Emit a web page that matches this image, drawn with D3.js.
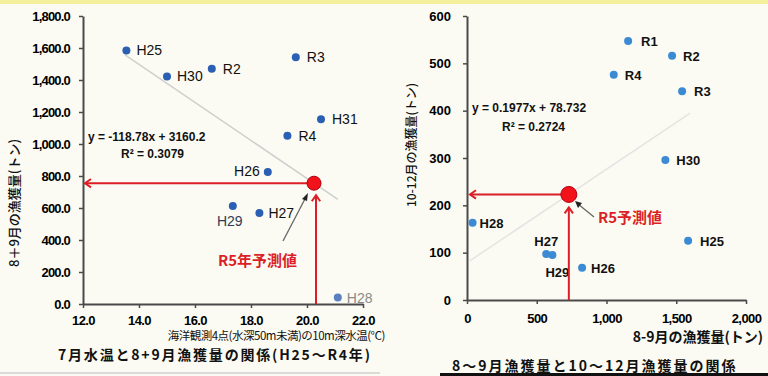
<!DOCTYPE html>
<html><head><meta charset="utf-8">
<script src="https://cdn.jsdelivr.net/npm/d3@7/dist/d3.min.js"></script>
<style>
html,body{margin:0;padding:0;background:#fbfbf3;}
svg{display:block;}
text{font-family:"Liberation Sans",Arial,"Noto Sans CJK JP",sans-serif;}
.jp{font-family:"Noto Sans CJK JP","Liberation Sans",sans-serif;}
</style></head>
<body>
<svg id="c" width="768" height="376"></svg>
<script>
// ---- data ----
const leftLabels = ["H25","H26","H27","H28","H29","H30","H31","R2","R3","R4"];
const julyTemp   = [13.55,18.6,18.3,21.1,17.35,15.0,20.5,16.6,19.6,19.3];
const catch89    = [1585,825,568,40,612,1422,1155,1470,1542,1052];
const rightLabels = ["H25","H26","H27","H28","H29","H30","R1","R2","R3","R4"];
const catch1012  = [125,68,97,163,95,296,547,516,441,476];
const leftXTicks = [12,14,16,18,20,22];
const leftYTicks = [0,200,400,600,800,1000,1200,1400,1600,1800];
const rightXTicks = [0,500,1000,1500,2000];
const rightYTicks = [0,100,200,300,400,500,600];
const leftFit = {slope:-118.78, intercept:3160.2, r2:"0.3079", from:13.5, to:21.1};
const rightFit = {slope:0.1977, intercept:78.732, r2:"0.2724", from:20, to:1600};
const predTemp = 20.25;
const predCatch89 = 755;
const predCatch89R = 730;
const predCatch1012 = 223;

const svg = d3.select("#c");
svg.append("rect").attr("x",0).attr("y",0).attr("width",768).attr("height",376).attr("fill","#fbfbf3");
svg.append("rect").attr("x",0).attr("y",0).attr("width",768).attr("height",4).attr("fill","#f4ef9c");

const red = "#dc1f26";
function arrowHead(g, x, y, dir){
  const s = 6;
  let pts;
  if(dir==="left") pts=[[x+s,y-s*0.7],[x,y],[x+s,y+s*0.7]];
  else pts=[[x-s*0.7,y+s],[x,y],[x+s*0.7,y+s]];
  g.append("polyline").attr("points",pts.map(p=>p.join(",")).join(" "))
   .attr("fill","none").attr("stroke",red).attr("stroke-width",2);
}
function styleAxis(g){
  g.select(".domain").attr("stroke","#4a4a4a").attr("stroke-width",2);
  g.selectAll(".tick line").attr("stroke","#4a4a4a").attr("stroke-width",1.5);
  g.selectAll(".tick text").attr("fill","#000").attr("font-size",13).attr("font-weight","bold");
}

// ======== LEFT CHART ========
const lx = d3.scaleLinear().domain([12,22]).range([83,363]);
const ly = d3.scaleLinear().domain([0,1800]).range([304,16]);
const L = svg.append("g");

const lxa = L.append("g").attr("transform","translate(0,304)")
  .call(d3.axisBottom(lx).tickValues(leftXTicks).tickFormat(d3.format(".1f")).tickSize(4).tickSizeOuter(0).tickPadding(8));
styleAxis(lxa);
lxa.selectAll(".tick text").attr("letter-spacing","-0.6");
const lya = L.append("g").attr("transform","translate(83,0)")
  .call(d3.axisLeft(ly).tickValues(leftYTicks).tickFormat(d3.format(",.1f")).tickSize(4).tickSizeOuter(0).tickPadding(9));
styleAxis(lya);
lya.selectAll(".tick text").attr("letter-spacing","-0.8");

L.append("line").attr("x1",lx(leftFit.from)).attr("y1",ly(leftFit.slope*leftFit.from+leftFit.intercept))
  .attr("x2",lx(leftFit.to)).attr("y2",ly(leftFit.slope*leftFit.to+leftFit.intercept))
  .attr("stroke","#cfcfcf").attr("stroke-width",1.5);

const lpts = leftLabels.map((l,i)=>({l, x:julyTemp[i], y:catch89[i]}));
L.selectAll("circle.p").data(lpts).join("circle").attr("class","p")
  .attr("cx",d=>lx(d.x)).attr("cy",d=>ly(d.y)).attr("r",4)
  .attr("fill",d=>d.l==="H28"?"#5b7fc0":"#2b5fb4");
const lOff = {H25:[10,5,"start"],H30:[10,5,"start"],R2:[11,5,"start"],R3:[11,5,"start"],H31:[11,5,"start"],
  R4:[11,5,"start"],H26:[-8,4,"end"],H29:[-3,20,"middle"],H27:[9,5,"start"],H28:[9,5,"start"]};
L.selectAll("text.pl").data(lpts).join("text").attr("class","pl")
  .attr("x",d=>lx(d.x)+lOff[d.l][0]).attr("y",d=>ly(d.y)+lOff[d.l][1])
  .attr("text-anchor",d=>lOff[d.l][2]).attr("font-size",14)
  .attr("fill",d=>d.l==="H28"?"#8a8a8a":(d.l==="H29"?"#2e3c5c":"#111")).text(d=>d.l);

L.append("text").attr("x",88).attr("y",141).attr("font-size",12).attr("font-weight","bold").attr("fill","#111")
  .text("y = -118.78x + 3160.2");
L.append("text").attr("x",121).attr("y",158).attr("font-size",12).attr("font-weight","bold").attr("fill","#111")
  .text("R² = " + leftFit.r2);

const pxL = lx(predTemp), pyL = ly(predCatch89);
L.append("line").attr("x1",pxL).attr("y1",pyL).attr("x2",lx(12)+2).attr("y2",pyL).attr("stroke",red).attr("stroke-width",2);
arrowHead(L, lx(12)+2, pyL, "left");
L.append("line").attr("x1",pxL+2).attr("y1",ly(0)).attr("x2",pxL+2).attr("y2",pyL+12).attr("stroke",red).attr("stroke-width",2);
arrowHead(L, pxL+2, pyL+12, "up");
L.append("circle").attr("cx",pxL).attr("cy",pyL).attr("r",7).attr("fill","#f2121a").attr("stroke","#b00010").attr("stroke-width",1);
L.append("line").attr("x1",283).attr("y1",241).attr("x2",306).attr("y2",197).attr("stroke","#666").attr("stroke-width",1.3);
L.append("polygon").attr("points","308,193 302,199 307,201").attr("fill","#222");
L.append("text").attr("class","jp").attr("x",218).attr("y",266).attr("font-size",15).attr("font-weight","bold")
  .attr("fill",red).text("R5年予測値");

L.append("text").attr("class","jp").attr("x",385).attr("y",340).attr("text-anchor","end").attr("font-size",11.5)
  .attr("fill","#111").attr("letter-spacing","-0.5").text("海洋観測4点(水深50m未満)の10m深水温(℃)");
L.append("text").attr("class","jp").attr("x",58).attr("y",360).attr("font-size",14).attr("font-weight","bold")
  .attr("fill","#111").attr("letter-spacing","1.8").text("7月水温と8+9月漁獲量の関係(H25～R4年)");
L.append("text").attr("class","jp").attr("transform","translate(19,203) rotate(-90)").attr("text-anchor","middle")
  .attr("font-size",13).attr("font-weight","500").attr("fill","#111").text("8＋9月の漁獲量(トン)");
L.append("line").attr("x1",0).attr("x2",380).attr("y1",373).attr("y2",373).attr("stroke","#cfcfcf").attr("stroke-width",1.5);

// ======== RIGHT CHART ========
const rx = d3.scaleLinear().domain([0,2000]).range([467,746]);
const ry = d3.scaleLinear().domain([0,600]).range([300,16]);
const R = svg.append("g");
const rxa = R.append("g").attr("transform","translate(0,300)")
  .call(d3.axisBottom(rx).tickValues(rightXTicks).tickFormat(d3.format(",")).tickSize(4).tickSizeOuter(0).tickPadding(10));
styleAxis(rxa);
rxa.selectAll(".tick text").attr("letter-spacing","-0.6");
const rya = R.append("g").attr("transform","translate(467,0)")
  .call(d3.axisLeft(ry).tickValues(rightYTicks).tickFormat(d3.format("d")).tickSize(4).tickSizeOuter(0).tickPadding(12));
styleAxis(rya);

R.append("line").attr("x1",rx(rightFit.from)).attr("y1",ry(rightFit.slope*rightFit.from+rightFit.intercept))
  .attr("x2",rx(rightFit.to)).attr("y2",ry(rightFit.slope*rightFit.to+rightFit.intercept))
  .attr("stroke","#e4e4e4").attr("stroke-width",1.5);

const rpts = rightLabels.map((l,i)=>({l, x:catch89[i], y:catch1012[i]}));
R.selectAll("circle.p").data(rpts).join("circle").attr("class","p")
  .attr("cx",d=>rx(d.x)).attr("cy",d=>ry(d.y)).attr("r",4).attr("fill","#3a8ad4");
const rOff = {R1:[13,5,"start"],R2:[11,5,"start"],R4:[11,5,"start"],R3:[12,5,"start"],H30:[11,5,"start"],
  H28:[7,5,"start"],H27:[0,-8,"middle"],H29:[5,22,"middle"],H26:[9,5,"start"],H25:[12,5,"start"]};
R.selectAll("text.pl").data(rpts).join("text").attr("class","pl")
  .attr("x",d=>rx(d.x)+rOff[d.l][0]).attr("y",d=>ry(d.y)+rOff[d.l][1])
  .attr("text-anchor",d=>rOff[d.l][2]).attr("font-size",13).attr("font-weight","bold")
  .attr("fill","#111").text(d=>d.l);

R.append("text").attr("x",472).attr("y",112).attr("font-size",12).attr("font-weight","bold").attr("fill","#111")
  .text("y = 0.1977x + 78.732");
R.append("text").attr("x",502).attr("y",131).attr("font-size",12).attr("font-weight","bold").attr("fill","#111")
  .text("R² = " + rightFit.r2);

const pxR = rx(predCatch89R), pyR = ry(predCatch1012);
R.append("line").attr("x1",pxR).attr("y1",pyR).attr("x2",rx(0)+3).attr("y2",pyR).attr("stroke",red).attr("stroke-width",2);
arrowHead(R, rx(0)+3, pyR, "left");
R.append("line").attr("x1",pxR).attr("y1",ry(0)).attr("x2",pxR).attr("y2",pyR+13).attr("stroke",red).attr("stroke-width",2);
arrowHead(R, pxR, pyR+13, "up");
R.append("circle").attr("cx",pxR).attr("cy",pyR).attr("r",8).attr("fill","#f2121a").attr("stroke","#b00010").attr("stroke-width",1);
R.append("line").attr("x1",594).attr("y1",217).attr("x2",578).attr("y2",204).attr("stroke","#666").attr("stroke-width",1.3);
R.append("polygon").attr("points","575,201 582,203 578,208").attr("fill","#222");
R.append("text").attr("class","jp").attr("x",598).attr("y",223).attr("font-size",15).attr("font-weight","bold")
  .attr("fill",red).text("R5予測値");

R.append("text").attr("class","jp").attr("x",763).attr("y",342).attr("text-anchor","end").attr("font-size",14)
  .attr("font-weight","bold").attr("fill","#111").text("8-9月の漁獲量(トン)");
R.append("text").attr("class","jp").attr("x",452).attr("y",371).attr("font-size",14).attr("font-weight","bold")
  .attr("fill","#111").attr("letter-spacing","2").text("8～9月漁獲量と10～12月漁獲量の関係");
R.append("text").attr("class","jp").attr("transform","translate(416,145) rotate(-90)").attr("text-anchor","middle")
  .attr("font-size",12).attr("font-weight","500").attr("fill","#111").text("10-12月の漁獲量(トン)");
R.append("rect").attr("x",440).attr("y",373).attr("width",328).attr("height",3).attr("fill","#111");
</script>
</body></html>
